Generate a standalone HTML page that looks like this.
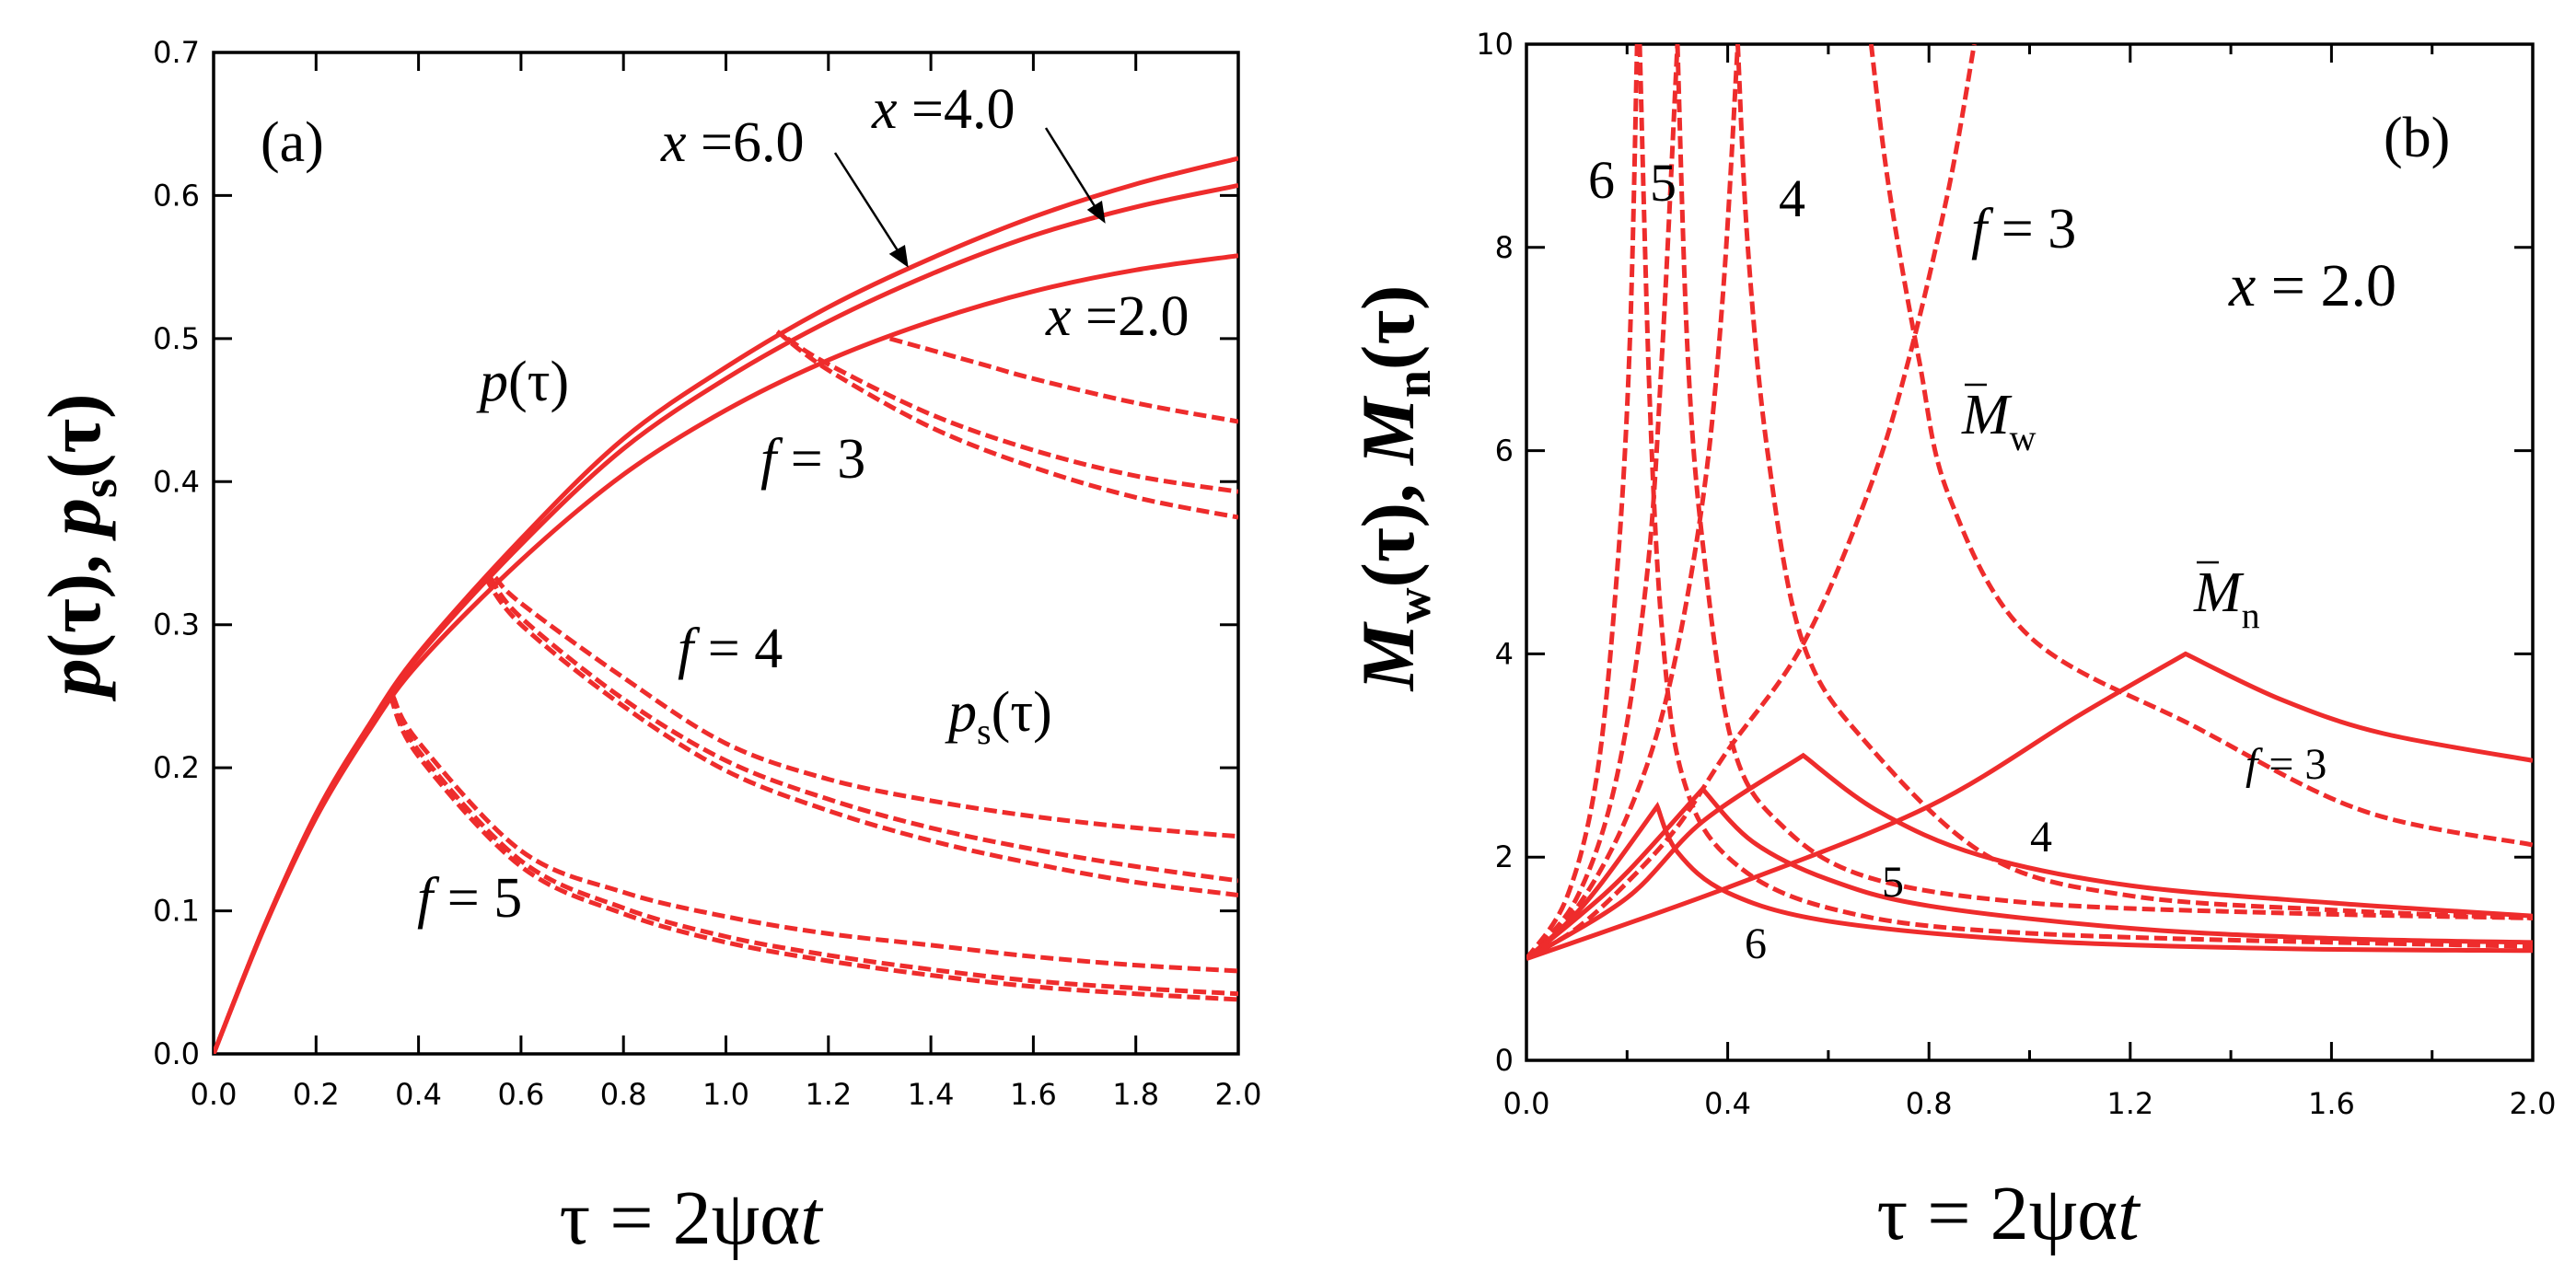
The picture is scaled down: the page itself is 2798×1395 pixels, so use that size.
<!DOCTYPE html>
<html><head><meta charset="utf-8"><style>
html,body{margin:0;padding:0;background:#fff}
svg{display:block}
.t{font-family:"Liberation Serif",serif;fill:#000}
.k{font-family:"DejaVu Sans","Liberation Sans",sans-serif;font-size:32px;fill:#000}
</style></head><body>
<svg id="svg" width="2798" height="1395" viewBox="0 0 2798 1395" xmlns="http://www.w3.org/2000/svg">
<g id="pa"></g>
<g id="pb"></g>
<g>
<text class="t" x="283" y="175" font-size="62">(a)</text>
<text class="t" x="718" y="175" font-size="62"><tspan font-style="italic">x</tspan> =6.0</text>
<text class="t" x="947" y="139" font-size="62"><tspan font-style="italic">x</tspan> =4.0</text>
<text class="t" x="1136" y="364" font-size="62"><tspan font-style="italic">x</tspan> =2.0</text>
<text class="t" x="521" y="435" font-size="62"><tspan font-style="italic">p</tspan>(τ)</text>
<text class="t" x="826" y="519" font-size="62"><tspan font-style="italic">f</tspan> = 3</text>
<text class="t" x="736" y="725" font-size="62"><tspan font-style="italic">f</tspan> = 4</text>
<text class="t" x="1030" y="794" font-size="62"><tspan font-style="italic">p</tspan><tspan font-size="40" dy="14">s</tspan><tspan dy="-14">(τ)</tspan></text>
<text class="t" x="453" y="996" font-size="62"><tspan font-style="italic">f</tspan> = 5</text>
<g stroke="#000" stroke-width="2.5" fill="#000">
<line x1="907" y1="166" x2="980" y2="280"/><polygon points="985,288 968,276 982,268"/>
<line x1="1136" y1="139" x2="1194" y2="232"/><polygon points="1199,240 1183,228 1196,220"/>
</g>
<text class="t" x="750" y="1351" font-size="84" text-anchor="middle">τ = 2ψα<tspan font-style="italic">t</tspan></text>
<text class="t" transform="translate(108,592) rotate(-90)" font-size="82" font-weight="bold" text-anchor="middle"><tspan font-style="italic">p</tspan>(τ), <tspan font-style="italic">p</tspan><tspan font-size="54" dy="18">s</tspan><tspan dy="-18">(τ)</tspan></text>
</g>
<g>
<text class="t" x="2589" y="170" font-size="62">(b)</text>
<text class="t" x="2421" y="332" font-size="66"><tspan font-style="italic">x</tspan> = 2.0</text>
<text class="t" x="1725" y="215" font-size="58">6</text>
<text class="t" x="1792" y="218" font-size="58">5</text>
<text class="t" x="1932" y="235" font-size="58">4</text>
<text class="t" x="2141" y="269" font-size="62"><tspan font-style="italic">f</tspan> = 3</text>
<text class="t" x="2131" y="471" font-size="62"><tspan font-style="italic">M</tspan><tspan font-size="40" dy="18">w</tspan></text>
<line x1="2134" y1="418" x2="2158" y2="418" stroke="#000" stroke-width="2.5"/>
<text class="t" x="2383" y="664" font-size="62"><tspan font-style="italic">M</tspan><tspan font-size="40" dy="18">n</tspan></text>
<line x1="2386" y1="611" x2="2410" y2="611" stroke="#000" stroke-width="2.5"/>
<text class="t" x="2439" y="846" font-size="48"><tspan font-style="italic">f</tspan> = 3</text>
<text class="t" x="2205" y="925" font-size="48">4</text>
<text class="t" x="2044" y="974" font-size="48">5</text>
<text class="t" x="1895" y="1041" font-size="48">6</text>
<text class="t" x="2181" y="1346" font-size="84" text-anchor="middle">τ = 2ψα<tspan font-style="italic">t</tspan></text>
<text class="t" transform="translate(1535,530) rotate(-90)" font-size="82" font-weight="bold" text-anchor="middle"><tspan font-style="italic">M</tspan><tspan font-size="54" dy="18">w</tspan><tspan dy="-18">(τ), </tspan><tspan font-style="italic">M</tspan><tspan font-size="54" dy="18">n</tspan><tspan dy="-18">(τ)</tspan></text>
</g>
</svg>
<script>
// ---- Panel (a) data ----
const tauA = [0,0.1,0.2,0.3,0.4,0.6,0.8,1.0,1.2,1.4,1.6,1.8,2.0];
const pX6 = [0,0.09,0.168,0.228,0.28,0.36,0.43,0.48,0.522,0.556,0.585,0.608,0.626];
const pX4 = [0,0.09,0.167,0.227,0.278,0.356,0.423,0.472,0.512,0.545,0.572,0.592,0.607];
const pX2 = [0,0.089,0.165,0.224,0.273,0.345,0.405,0.45,0.485,0.512,0.533,0.548,0.558];
const psF3X2 = [[1.32,0.50],[1.5,0.482],[1.6,0.472],[1.8,0.455],[2.0,0.442]];
const psF3X4 = [[1.12,0.50],[1.2,0.482],[1.4,0.447],[1.6,0.422],[1.8,0.404],[2.0,0.393]];
const psF3X6 = [[1.10,0.505],[1.2,0.478],[1.4,0.438],[1.6,0.410],[1.8,0.389],[2.0,0.375]];
const psF4X2 = [[0.55,0.333],[0.6,0.315],[0.8,0.263],[1.0,0.217],[1.2,0.192],[1.4,0.177],[1.6,0.166],[1.8,0.158],[2.0,0.152]];
const psF4X4 = [[0.54,0.333],[0.6,0.305],[0.8,0.248],[1.0,0.205],[1.2,0.178],[1.4,0.158],[1.6,0.143],[1.8,0.131],[2.0,0.121]];
const psF4X6 = [[0.53,0.333],[0.6,0.300],[0.8,0.243],[1.0,0.198],[1.2,0.170],[1.4,0.149],[1.6,0.133],[1.8,0.120],[2.0,0.111]];
const psF5X2 = [[0.35,0.25],[0.4,0.218],[0.6,0.142],[0.8,0.113],[1.0,0.096],[1.2,0.084],[1.4,0.076],[1.6,0.068],[1.8,0.062],[2.0,0.058]];
const psF5X4 = [[0.35,0.25],[0.4,0.212],[0.6,0.135],[0.8,0.102],[1.0,0.082],[1.2,0.069],[1.4,0.059],[1.6,0.051],[1.8,0.046],[2.0,0.042]];
const psF5X6 = [[0.345,0.25],[0.4,0.208],[0.6,0.131],[0.8,0.098],[1.0,0.078],[1.2,0.065],[1.4,0.055],[1.6,0.047],[1.8,0.042],[2.0,0.038]];
const xTicksA = ["0.0","0.2","0.4","0.6","0.8","1.0","1.2","1.4","1.6","1.8","2.0"];
const yTicksA = ["0.0","0.1","0.2","0.3","0.4","0.5","0.6","0.7"];
// ---- Panel (b) data ----
const mwRise6 = [[0,1],[0.08,1.6],[0.14,2.8],[0.18,4.8],[0.205,7],[0.22,10]];
const mwRise5 = [[0,1],[0.1,1.6],[0.18,2.8],[0.24,4.8],[0.27,7],[0.30,10]];
const mwRise4 = [[0,1],[0.1,1.5],[0.2,2.4],[0.28,3.6],[0.35,5.5],[0.39,7.5],[0.42,10]];
const mwRise3 = [[0,1],[0.1,1.3],[0.2,1.75],[0.3,2.3],[0.4,3.05],[0.55,4.1],[0.68,5.6],[0.76,6.9],[0.84,8.6],[0.89,10]];
const mwFall6 = [[0.225,10],[0.245,6.5],[0.27,4.2],[0.31,2.8],[0.4,2.0],[0.6,1.5],[1.0,1.25],[2.0,1.12]];
const mwFall5 = [[0.30,10],[0.32,7],[0.35,5.1],[0.41,3.1],[0.51,2.3],[0.68,1.8],[1.0,1.55],[1.5,1.45],[2.0,1.4]];
const mwFall4 = [[0.42,10],[0.44,8],[0.48,5.96],[0.55,4.1],[0.68,3.1],[0.92,2.0],[1.2,1.62],[1.6,1.48],[2.0,1.4]];
const mwFall3 = [[0.685,10],[0.72,8.6],[0.78,6.9],[0.84,5.55],[1.0,4.17],[1.33,3.28],[1.66,2.46],[2.0,2.12]];
const mn6 = [[0,1],[0.08,1.35],[0.15,1.75],[0.26,2.5],[0.3,2.05],[0.4,1.65],[0.6,1.37],[1.0,1.18],[1.5,1.1],[2.0,1.08]];
const mn5 = [[0,1],[0.1,1.4],[0.2,1.85],[0.35,2.67],[0.45,2.15],[0.6,1.78],[0.8,1.52],[1.2,1.3],[1.6,1.2],[2.0,1.16]];
const mn4 = [[0,1],[0.2,1.6],[0.35,2.35],[0.55,3.0],[0.7,2.45],[0.9,2.02],[1.2,1.72],[1.6,1.55],[2.0,1.42]];
const mn3 = [[0,1],[0.4,1.7],[0.8,2.5],[1.1,3.4],[1.31,4.0],[1.5,3.55],[1.7,3.22],[2.0,2.95]];
const xTicksB = ["0.0","0.4","0.8","1.2","1.6","2.0"];
const yTicksB = ["0","2","4","6","8","10"];

const NS="http://www.w3.org/2000/svg";
const RED="#ee2c2c";
function mk(tag,parent){const e=document.createElementNS(NS,tag);parent.appendChild(e);return e;}
function axis(d0,d1,p0,p1){return v=>p0+(v-d0)/(d1-d0)*(p1-p0);}
function smoothSeg(pts,first){
  let d=(first?"M":"L")+pts[0][0].toFixed(1)+","+pts[0][1].toFixed(1);
  for(let i=0;i<pts.length-1;i++){
    const p0=pts[Math.max(0,i-1)],p1=pts[i],p2=pts[i+1],p3=pts[Math.min(pts.length-1,i+2)];
    const c1=[p1[0]+(p2[0]-p0[0])/6,p1[1]+(p2[1]-p0[1])/6];
    const c2=[p2[0]-(p3[0]-p1[0])/6,p2[1]-(p3[1]-p1[1])/6];
    d+=" C"+c1[0].toFixed(1)+","+c1[1].toFixed(1)+" "+c2[0].toFixed(1)+","+c2[1].toFixed(1)+" "+p2[0].toFixed(1)+","+p2[1].toFixed(1);
  }
  return d;
}
function curve(g,pairs,X,Y,dashed,name,splitPeak){
  const p=mk("path",g);
  
  
  const pts=pairs.map(q=>[X(q[0]),Y(q[1])]);
  let d;
  if(splitPeak){
    let k=0;pairs.forEach((q,i)=>{if(q[1]>pairs[k][1])k=i;});
    d=smoothSeg(pts.slice(0,k+1),true)+" "+smoothSeg(pts.slice(k),false);
  } else d=smoothSeg(pts,true);
  p.setAttribute("d",d);
  p.setAttribute("fill","none");p.setAttribute("stroke",RED);
  p.setAttribute("stroke-width","5");
  p.setAttribute("stroke-linejoin","miter");
  if(dashed)p.setAttribute("stroke-dasharray","14 6");
}
function frame(g,L,R,T,B,X,Y,xv,xl,yv,yl,minorX,xlabY,ylabX){
  const clip=mk("clipPath",g);clip.id=g.id+"c";
  const cr=mk("rect",clip);cr.setAttribute("x",L);cr.setAttribute("y",T);cr.setAttribute("width",R-L);cr.setAttribute("height",B-T);
  const ticks=mk("g",g);
  
  
  ticks.setAttribute("stroke","#000");ticks.setAttribute("stroke-width","3");
  xv.forEach((v,i)=>{
    const x=X(v);
    [[B,B-20],[T,T+20]].forEach(s=>{const l=mk("line",ticks);l.setAttribute("x1",x);l.setAttribute("x2",x);l.setAttribute("y1",s[0]);l.setAttribute("y2",s[1]);});
    const t=mk("text",g);
    
    
    t.setAttribute("class","k");t.setAttribute("x",x);t.setAttribute("y",xlabY);t.setAttribute("text-anchor","middle");t.textContent=xl[i];
  });
  minorX.forEach(v=>{const x=X(v);[[B,B-11],[T,T+11]].forEach(s=>{const l=mk("line",ticks);l.setAttribute("x1",x);l.setAttribute("x2",x);l.setAttribute("y1",s[0]);l.setAttribute("y2",s[1]);});});
  yv.forEach((v,i)=>{
    const y=Y(v);
    [[L,L+20],[R,R-20]].forEach(s=>{const l=mk("line",ticks);l.setAttribute("y1",y);l.setAttribute("y2",y);l.setAttribute("x1",s[0]);l.setAttribute("x2",s[1]);});
    const t=mk("text",g);
    
    
    t.setAttribute("class","k");t.setAttribute("x",ylabX);t.setAttribute("y",y+11);t.setAttribute("text-anchor","end");t.textContent=yl[i];
  });
  const r=mk("rect",g);
  
  
  r.setAttribute("x",L);r.setAttribute("y",T);r.setAttribute("width",R-L);r.setAttribute("height",B-T);
  r.setAttribute("fill","none");r.setAttribute("stroke","#000");r.setAttribute("stroke-width","3.5");
  const cg=mk("g",g);cg.setAttribute("clip-path","url(#"+clip.id+")");
  
  
  return cg;
}
// Panel a
(function(){
  const g=document.getElementById("pa");
  const L=232,R=1345,T=57,B=1145;
  const X=axis(0,2,L,R),Y=axis(0,0.7,B,T);
  const cg=frame(g,L,R,T,B,X,Y,xTicksA.map(Number),xTicksA,yTicksA.map(Number),yTicksA,[],1200,217);
  [[pX6,"p-x6"],[pX4,"p-x4"],[pX2,"p-x2"]].forEach(s=>curve(cg,tauA.map((t,i)=>[t,s[0][i]]),X,Y,false,s[1],false));
  [[psF3X2,"ps-f3-x2"],[psF3X4,"ps-f3-x4"],[psF3X6,"ps-f3-x6"],[psF4X2,"ps-f4-x2"],[psF4X4,"ps-f4-x4"],[psF4X6,"ps-f4-x6"],[psF5X2,"ps-f5-x2"],[psF5X4,"ps-f5-x4"],[psF5X6,"ps-f5-x6"]]
   .forEach(s=>curve(cg,s[0],X,Y,true,s[1],false));
})();
// Panel b
(function(){
  const g=document.getElementById("pb");
  const L=1658,R=2751,T=48,B=1152;
  const X=axis(0,2,L,R),Y=axis(0,10,B,T);
  const cg=frame(g,L,R,T,B,X,Y,xTicksB.map(Number),xTicksB,yTicksB.map(Number),yTicksB,[0.2,0.6,1.0,1.4,1.8],1210,1644);
  [[mwRise6,"mw-rise-f6"],[mwRise5,"mw-rise-f5"],[mwRise4,"mw-rise-f4"],[mwRise3,"mw-rise-f3"],[mwFall6,"mw-fall-f6"],[mwFall5,"mw-fall-f5"],[mwFall4,"mw-fall-f4"],[mwFall3,"mw-fall-f3"]]
   .forEach(s=>curve(cg,s[0],X,Y,true,s[1],false));
  [[mn6,"mn-f6"],[mn5,"mn-f5"],[mn4,"mn-f4"],[mn3,"mn-f3"]].forEach(s=>curve(cg,s[0],X,Y,false,s[1],true));
})();
</script>
</body></html>
